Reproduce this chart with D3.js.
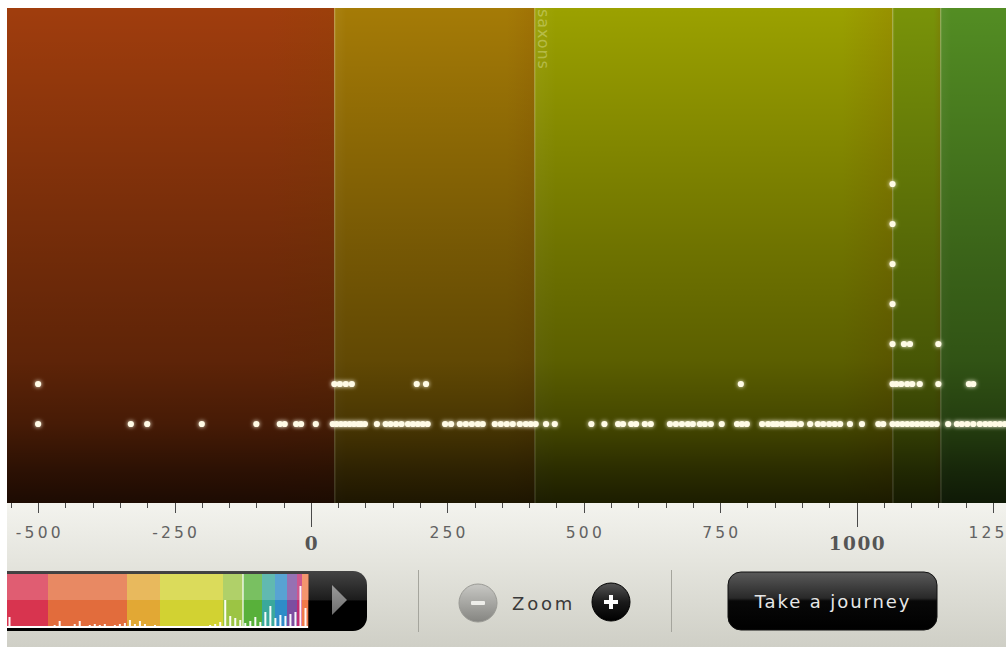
<!DOCTYPE html>
<html><head><meta charset="utf-8">
<script src="https://cdn.jsdelivr.net/npm/d3@7"></script>
<style>html,body{margin:0;padding:0;background:#fff;overflow:hidden}</style>
</head><body>
<svg id="c" width="1006" height="647"></svg>
<script>
// ---------- data ----------
const eraNames  = ["prehistoric", "romans", "saxons", "normans", "plantagenets"];
const eraStarts = [-800, 43, 410, 1066, 1154];
const eraEnds   = [43, 410, 1066, 1154, 1485];
const eraColors = ["#a03d0d", "#a57b06", "#9ba100", "#799309", "#538d23"];
const labelledEras = ["saxons"];

const minorTicks  = d3.range(-550, 1251, 50);
const labelTicks  = [-500, -250, 250, 500, 750, 1250];
const majorTicks  = [0, 1000];

const level0Years = [-500, -330, -300, -200, -100, -57, -48, -27, -18, 9,
  40, 47, 55, 63, 71, 79, 87, 92, 99, 121, 137, 146, 156, 166, 178, 187, 196, 205, 214,
  246, 257, 273, 284, 295, 306, 315, 337, 348, 359, 370, 383, 394, 403, 412, 431, 447,
  514, 538, 563, 572, 587, 596, 612, 623, 658, 669, 680, 691, 700, 713, 722, 733, 753,
  781, 790, 799, 827, 838, 847, 854, 863, 873, 880, 887, 898, 915, 929, 939, 950, 960,
  970, 988, 1010, 1040, 1049, 1066, 1075, 1084, 1093, 1102, 1111, 1120, 1129, 1138, 1147,
  1168, 1184, 1193, 1203, 1214, 1226, 1236, 1245, 1254, 1263, 1272];
const level1Years = [-500, 43, 53, 64, 75, 194, 211, 788, 1066, 1073, 1082, 1093, 1102, 1116, 1150, 1206, 1214];
const level2Years = [1066, 1087, 1098, 1150];
const level3Years = [1066];
const level4Years = [1066];
const level5Years = [1066];
const level6Years = [1066];
const levels = [level0Years, level1Years, level2Years, level3Years, level4Years, level5Years, level6Years];

// overview strip (mini map)
const overviewColors  = ["#d8344f", "#e26c3c", "#e2a834", "#d2d232", "#9cc444", "#58b03a", "#3aa89c", "#2e8cc8", "#7c4ea0", "#c02c72", "#f07a4a"];
const overviewWeights = [41, 79, 33, 63, 20, 19, 13, 12, 10, 5, 6];
const overviewCounts  = [9,0,0,0,0,0,0,0,0,1, 5,0,0,2,5,0,1,2,1,2, 0,1,2,3,6,2,5,2,0,1,
                         0,0,0,0,0,0,0,0,0,0, 1,2,4,26,10,8,6,3,5,9, 4,14,20,8,11,10,12,14,40,18];
const overviewViewEnd = 236;

// ---------- layout ----------
const W = 1006, H = 647;
const plot = {x0: 7, x1: 1006, y0: 8, y1: 503};
const svg = d3.select("#c");
const defs = svg.append("defs");

const x = d3.scaleLinear().domain([-557, 1274]).range([plot.x0, plot.x1]);
const y = d3.scaleLinear().domain([0, 1]).range([424, 384]);

defs.append("clipPath").attr("id", "plotClip").append("rect")
  .attr("x", plot.x0).attr("y", plot.y0).attr("width", plot.x1 - plot.x0).attr("height", plot.y1 - plot.y0);
defs.append("clipPath").attr("id", "pageClip").append("rect")
  .attr("x", plot.x0).attr("y", 0).attr("width", W - plot.x0).attr("height", H);

const shade = defs.append("linearGradient").attr("id", "shade").attr("x1", 0).attr("y1", 0).attr("x2", 0).attr("y2", 1);
[[0, 0], [0.49, 0.29], [0.71, 0.41], [0.84, 0.56], [0.93, 0.72], [1, 0.82]].forEach(([o, a]) =>
  shade.append("stop").attr("offset", o).attr("stop-color", "#000").attr("stop-opacity", a));

const warm = defs.append("linearGradient").attr("id", "warm").attr("x1", 0).attr("y1", 0).attr("x2", 1).attr("y2", 0);
warm.append("stop").attr("offset", 0).attr("stop-color", "#fff").attr("stop-opacity", 0.05);
warm.append("stop").attr("offset", 0.06).attr("stop-color", "#fff").attr("stop-opacity", 0);
warm.append("stop").attr("offset", 0.86).attr("stop-color", "#8a4a00").attr("stop-opacity", 0);
warm.append("stop").attr("offset", 1).attr("stop-color", "#8a4a00").attr("stop-opacity", 0.18);

const panel = defs.append("linearGradient").attr("id", "panel").attr("x1", 0).attr("y1", 0).attr("x2", 0).attr("y2", 1);
[[0, "#f3f3ee"], [0.4, "#e5e5de"], [1, "#cfcfc6"]].forEach(([o, c]) => panel.append("stop").attr("offset", o).attr("stop-color", c));

function vgrad(id, stops) {
  const g = defs.append("linearGradient").attr("id", id).attr("x1", 0).attr("y1", 0).attr("x2", 0).attr("y2", 1);
  stops.forEach(([o, c]) => g.append("stop").attr("offset", o).attr("stop-color", c));
}
vgrad("minusG", [[0, "#c8c8c4"], [1, "#858581"]]);
vgrad("plusG", [[0, "#555"], [0.5, "#1a1a1a"], [1, "#000"]]);
vgrad("btnG", [[0, "#5a5a5a"], [0.45, "#292929"], [0.5, "#080808"], [1, "#000"]]);
vgrad("mapG", [[0, "#444"], [0.48, "#1c1c1c"], [0.5, "#000"], [1, "#000"]]);
vgrad("triG", [[0, "#9a9a9a"], [1, "#6e6e6e"]]);

const glow = defs.append("filter").attr("id", "glow").attr("x", "-150%").attr("y", "-150%").attr("width", "400%").attr("height", "400%");
glow.append("feGaussianBlur").attr("in", "SourceGraphic").attr("stdDeviation", 2.2).attr("result", "b");
const fm = glow.append("feMerge");
fm.append("feMergeNode").attr("in", "b");
fm.append("feMergeNode").attr("in", "SourceGraphic");

// ---------- era bands ----------
const eras = eraNames.map((n, i) => ({name: n, start: eraStarts[i], end: eraEnds[i], color: eraColors[i]}));
const gPlot = svg.append("g").attr("clip-path", "url(#plotClip)");
gPlot.selectAll("rect.era").data(eras).join("rect").attr("class", "era")
  .attr("x", d => x(d.start)).attr("width", d => x(d.end) - x(d.start))
  .attr("y", plot.y0).attr("height", plot.y1 - plot.y0).attr("fill", d => d.color);
gPlot.selectAll("rect.warm").data(eras).join("rect").attr("class", "warm")
  .attr("x", d => x(d.start)).attr("width", d => x(d.end) - x(d.start))
  .attr("y", plot.y0).attr("height", plot.y1 - plot.y0).attr("fill", "url(#warm)");
gPlot.append("rect").attr("x", plot.x0).attr("y", plot.y0).attr("width", plot.x1 - plot.x0).attr("height", plot.y1 - plot.y0)
  .attr("fill", "url(#shade)");
gPlot.selectAll("line.edge").data(eras.slice(1)).join("line").attr("class", "edge")
  .attr("x1", d => x(d.start) + 0.5).attr("x2", d => x(d.start) + 0.5)
  .attr("y1", plot.y0).attr("y2", plot.y1)
  .attr("stroke", "#fff8c0").attr("stroke-opacity", 0.13).attr("stroke-width", 1.5);

gPlot.selectAll("text.era").data(eras.filter(d => labelledEras.includes(d.name))).join("text").attr("class", "era")
  .attr("transform", d => `translate(${x(d.start) + 3},${plot.y0 + 1}) rotate(90)`)
  .attr("font-family", "DejaVu Sans").attr("font-size", 16).attr("letter-spacing", 0.9)
  .attr("fill", "#e8ecb0").attr("fill-opacity", 0.4).text(d => d.name);

// ---------- dots ----------
const dots = [];
levels.forEach((arr, lv) => arr.forEach(yr => dots.push({year: yr, level: lv})));
gPlot.append("g").attr("filter", "url(#glow)").selectAll("circle").data(dots).join("circle")
  .attr("cx", d => x(d.year)).attr("cy", d => y(d.level)).attr("r", 3.1)
  .attr("fill", "#fffbe6");

// ---------- bottom panel ----------
svg.append("rect").attr("x", plot.x0).attr("y", plot.y1).attr("width", W - plot.x0).attr("height", H - plot.y1)
  .attr("fill", "url(#panel)");

const gAxis = svg.append("g").attr("clip-path", "url(#pageClip)");
gAxis.selectAll("line.tk").data(minorTicks).join("line").attr("class", "tk")
  .attr("x1", d => Math.round(x(d)) + 0.5).attr("x2", d => Math.round(x(d)) + 0.5)
  .attr("y1", plot.y1)
  .attr("y2", d => plot.y1 + (majorTicks.includes(d) ? 24 : labelTicks.includes(d) ? 10 : 5))
  .attr("stroke", "#4a4a4a").attr("stroke-width", 1);
gAxis.selectAll("text.lb").data(labelTicks).join("text").attr("class", "lb")
  .attr("x", d => x(d) + 1.7).attr("y", 538).attr("text-anchor", "middle")
  .attr("font-family", "DejaVu Sans").attr("font-size", 15.5).attr("letter-spacing", 3.2)
  .attr("fill", "#626262").text(d => d);
gAxis.selectAll("text.mj").data(majorTicks).join("text").attr("class", "mj")
  .attr("x", d => x(d) + 1).attr("y", 550).attr("text-anchor", "middle")
  .attr("font-family", "DejaVu Serif").attr("font-weight", "bold").attr("font-size", 18.5).attr("letter-spacing", 1.5)
  .attr("fill", "#555").text(d => d);

// ---------- overview strip ----------
const gMap = svg.append("g").attr("clip-path", "url(#pageClip)");
gMap.append("rect").attr("x", -20).attr("y", 571).attr("width", 387).attr("height", 60).attr("rx", 14)
  .attr("fill", "url(#mapG)");
const cum = d3.cumsum(overviewWeights);
const total = cum[cum.length - 1];
const ov = d3.scaleLinear().domain([0, total]).range([plot.x0, 308]);
const segs = overviewWeights.map((w, i) => ({a: cum[i] - w, b: cum[i], c: overviewColors[i]}));
gMap.selectAll("rect.ovb").data(segs).join("rect").attr("class", "ovb")
  .attr("x", d => ov(d.a)).attr("width", d => ov(d.b) - ov(d.a) + 0.3)
  .attr("y", 574).attr("height", 54).attr("fill", d => d.c);
gMap.selectAll("rect.ovt").data(segs).join("rect").attr("class", "ovt")
  .attr("x", d => ov(d.a)).attr("width", d => ov(d.b) - ov(d.a) + 0.3)
  .attr("y", 574).attr("height", 26).attr("fill", d => d3.interpolateRgb(d.c, "#fff")(0.2));
const binW = total / overviewCounts.length;
const hy = d3.scaleLinear().domain([0, 40]).range([626, 586]);
gMap.selectAll("rect.hist").data(overviewCounts).join("rect").attr("class", "hist")
  .attr("x", (d, i) => ov((i + 0.5) * binW) - 1).attr("width", 2)
  .attr("y", d => hy(d)).attr("height", d => 627 - hy(d))
  .attr("fill", "#fff").attr("fill-opacity", 0.95);
gMap.append("rect").attr("x", ov(0)).attr("width", ov(total) - ov(0)).attr("y", 626).attr("height", 2).attr("fill", "#fff");
gMap.append("line").attr("x1", ov(overviewViewEnd)).attr("x2", ov(overviewViewEnd)).attr("y1", 574).attr("y2", 628)
  .attr("stroke", "#fff").attr("stroke-width", 1.2);
gMap.append("path").attr("d", "M332,585 L347,600 L332,615 Z").attr("fill", "url(#triG)");

// separators
svg.selectAll("line.sep").data([418.5, 671.5]).join("line").attr("class", "sep")
  .attr("x1", d => d).attr("x2", d => d).attr("y1", 570).attr("y2", 632)
  .attr("stroke", "#a5a59d").attr("stroke-width", 1);

// zoom controls
svg.append("circle").attr("cx", 478).attr("cy", 603).attr("r", 19).attr("fill", "url(#minusG)").attr("stroke", "#9a9a95");
svg.append("rect").attr("x", 471).attr("y", 601).attr("width", 14).attr("height", 4).attr("rx", 1).attr("fill", "#eeeeea");
svg.append("text").attr("x", 512).attr("y", 610).attr("font-family", "DejaVu Sans").attr("font-size", 18)
  .attr("letter-spacing", 2.8).attr("fill", "#3a3a3a").text("Zoom");
svg.append("circle").attr("cx", 611).attr("cy", 602).attr("r", 19).attr("fill", "url(#plusG)").attr("stroke", "#000");
svg.append("rect").attr("x", 604).attr("y", 600).attr("width", 14).attr("height", 4).attr("fill", "#fff");
svg.append("rect").attr("x", 609).attr("y", 595).attr("width", 4).attr("height", 14).attr("fill", "#fff");

// journey button
svg.append("rect").attr("x", 728).attr("y", 572).attr("width", 209).attr("height", 58).attr("rx", 13)
  .attr("fill", "url(#btnG)").attr("stroke", "#111");
svg.append("text").attr("x", 833).attr("y", 608).attr("text-anchor", "middle").attr("font-family", "DejaVu Sans")
  .attr("font-size", 18).attr("letter-spacing", 1.9).attr("fill", "#e6e6e6").text("Take a journey");
</script>
</body></html>
